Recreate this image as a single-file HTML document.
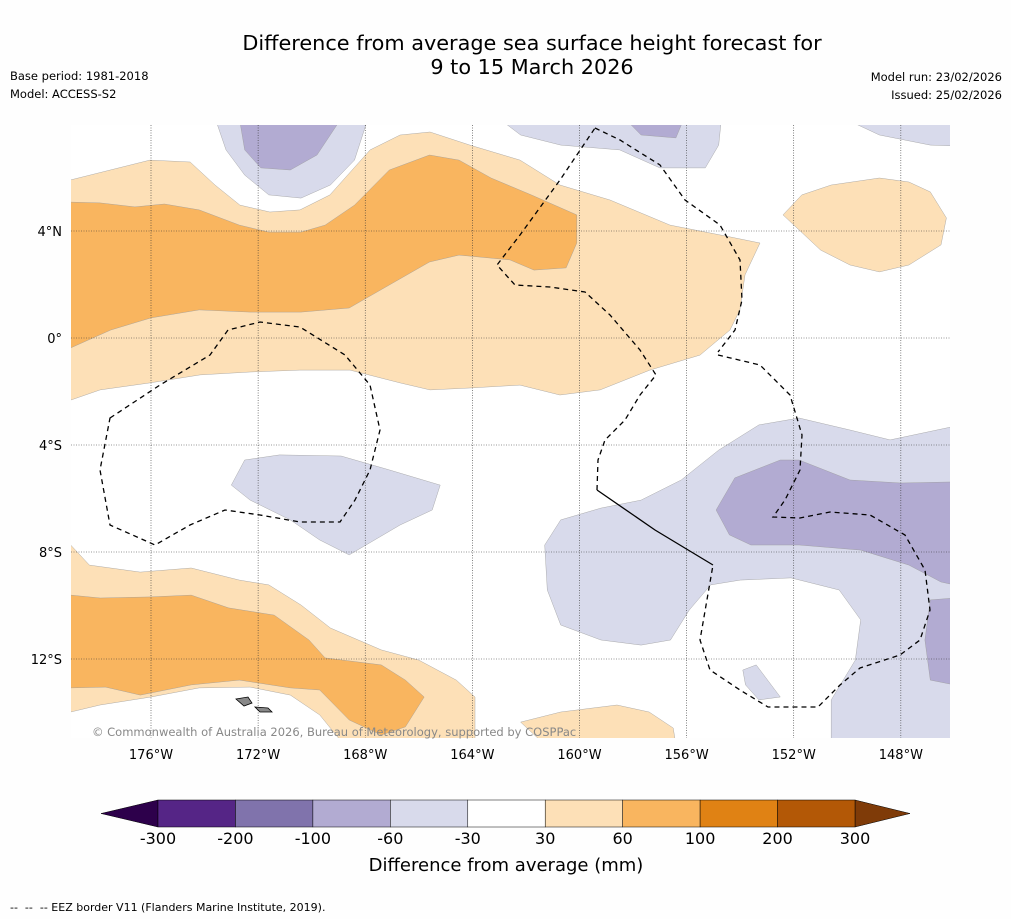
<!DOCTYPE html>
<html><head><meta charset="utf-8"><style>
body{margin:0;background:#fff;width:1011px;height:919px;overflow:hidden;font-family:"Liberation Sans","DejaVu Sans",sans-serif}
svg text{font-family:"DejaVu Sans","Liberation Sans",sans-serif}
</style></head><body>
<svg id="chart" width="1011" height="919" viewBox="0 0 1011 919" xmlns="http://www.w3.org/2000/svg">
<rect width="1011" height="919" fill="#fefefe"/>
<text x="532" y="50" font-size="20.8" text-anchor="middle" fill="#000">Difference from average sea surface height forecast for</text>
<text x="532" y="74" font-size="20.8" text-anchor="middle" fill="#000">9 to 15 March 2026</text>
<text x="10" y="80" font-size="11.5">Base period: 1981-2018</text>
<text x="10" y="98" font-size="11.5">Model: ACCESS-S2</text>
<text x="1002" y="81" font-size="11.5" text-anchor="end">Model run: 23/02/2026</text>
<text x="1002" y="99" font-size="11.5" text-anchor="end">Issued: 25/02/2026</text>
<defs><clipPath id="mapclip"><rect x="71" y="125" width="879" height="613"/></clipPath></defs>
<g id="map" clip-path="url(#mapclip)"><rect x="71" y="125" width="879" height="613" fill="#fff"/></g>
<g id="grid"></g>
<g id="eez" fill="none" stroke="#000" stroke-width="1.3" clip-path="url(#mapclip)">
<path stroke-dasharray="5,4" d="M595,128 L620,140 L660,165 L685,200 L720,225 L740,260 L742,300 L735,330 L718,352"/>
<path stroke-dasharray="5,4" d="M597,490 L598,460 L605,440 L625,420 L640,395 L656,375 L640,350 L610,315 L585,292 L550,287 L515,285 L497,265 L520,235 L560,180 L595,128"/>
<path stroke-dasharray="5,4" d="M718,355 L760,365 L790,395 L802,435 L800,470 L785,500 L773,517 L800,518 L830,512 L870,515 L905,535 L925,570 L930,610 L920,640 L900,655 L860,668 L840,685 L818,707 L768,707 L740,690 L710,670 L700,640 L713,565"/>
<path d="M597,490 L655,530 L713,565"/>
<path stroke-dasharray="5,4" d="M110,418 L160,385 L210,355 L228,330 L260,322 L300,327 L345,355 L370,385 L380,430 L370,470 L355,500 L340,522 L300,522 L260,515 L225,510 L190,525 L155,545 L110,525 L100,470 Z"/>
<path d="M236,699 L248,697 L252,703 L244,706 Z" fill="#888" stroke-width="0.8"/>
<path d="M255,707 L268,708 L272,712 L260,712 Z" fill="#888" stroke-width="0.8"/>
</g>
<text x="92" y="736" font-size="11.5" fill="#888">© Commonwealth of Australia 2026, Bureau of Meteorology, supported by COSPPac</text>
<g id="axes"></g>
<g id="cbar"></g>
<text x="506" y="871" font-size="18" text-anchor="middle">Difference from average (mm)</text>
<text x="10" y="911" font-size="11" xml:space="preserve">--  --  -- EEZ border V11 (Flanders Marine Institute, 2019).</text>
</svg>
<script>
const lonTicks=[-176,-172,-168,-164,-160,-156,-152,-148];
const latTicks=[4,0,-4,-8,-12];
const levels=[-300,-200,-100,-60,-30,30,60,100,200,300];
const levelColors=["#552586","#8073ac","#b2abd2","#d8daeb","#ffffff","#fde0b7","#f9b55f","#e08214","#b35806"];
const fillOrangeLightN=[[-179,5.91],[-176.04,6.65],[-174.54,6.58],[-173.61,5.72],[-172.68,4.97],[-171.56,4.71],[-170.44,4.79],[-169.32,5.35],[-167.82,7.03],[-166.7,7.59],[-165.58,7.7],[-164.09,7.21],[-162.22,6.65],[-160.73,5.72],[-158.86,5.16],[-156.62,4.22],[-154.38,3.78],[-153.26,3.55],[-153.82,2.36],[-154.01,1.05],[-154.38,0.3],[-155.5,-0.64],[-157.37,-1.2],[-159.23,-1.94],[-160.73,-2.13],[-162.22,-1.76],[-164.09,-1.87],[-165.58,-1.94],[-166.7,-1.68],[-168.57,-1.2],[-170.44,-1.2],[-172.3,-1.27],[-174.17,-1.38],[-176.04,-1.68],[-177.9,-1.94],[-179,-2.32]];
const fillOrangeDarkN=[[-179,5.08],[-177.9,5.05],[-176.6,4.9],[-175.5,5.01],[-174.2,4.79],[-172.7,4.22],[-171.6,3.96],[-170.4,3.96],[-169.5,4.22],[-168.4,4.97],[-167.1,6.28],[-165.6,6.84],[-164.5,6.65],[-163.3,5.98],[-161.8,5.35],[-160.1,4.6],[-160.1,3.55],[-160.5,2.62],[-161.7,2.54],[-162.6,2.92],[-164.5,3.1],[-165.6,2.84],[-167.1,1.98],[-168.6,1.12],[-170.4,0.97],[-172.3,0.97],[-174.2,1.05],[-176,0.75],[-177.5,0.3],[-179,-0.37]];
const fillPurpleLightTop=[[-173.6,8.2],[-173.2,7.03],[-172.5,6.09],[-171.6,5.35],[-170.4,5.23],[-169.3,5.72],[-168.4,6.65],[-167.9,8.2]];
const fillPurpleMedTop=[[-172.7,8.2],[-172.5,7.03],[-171.9,6.36],[-170.8,6.28],[-169.8,6.84],[-168.9,8.2]];
const fillPurpleLightTopR=[[-163,8.2],[-162.2,7.59],[-160.7,7.21],[-158.5,7.03],[-157,6.36],[-155.3,6.36],[-154.8,7.21],[-154.7,8.2]];
const fillPurpleMedTopR=[[-158.3,8.2],[-157.7,7.59],[-156.4,7.48],[-156.1,8.2]];
const fillPurpleLightFarR=[[-150.1,8.2],[-148.8,7.59],[-146.9,7.21],[-146,7.18],[-146,8.2]];
const fillOrangeRight=[[-152.4,4.6],[-151.7,5.35],[-150.6,5.72],[-148.8,5.98],[-147.7,5.83],[-146.9,5.46],[-146.3,4.49],[-146.5,3.48],[-147.7,2.73],[-148.8,2.47],[-149.9,2.73],[-151,3.29]];
const fillPurpleMid=[[-173,-5.5],[-172.5,-4.56],[-171.2,-4.37],[-168.9,-4.41],[-167.1,-4.93],[-165.2,-5.5],[-165.5,-6.43],[-166.7,-6.99],[-168.6,-8.11],[-169.7,-7.55],[-170.8,-6.8],[-172.3,-6.06]];
const fillPurpleLightSE=[[-161.3,-7.74],[-160.7,-6.8],[-159.2,-6.36],[-157.7,-6.06],[-156.2,-5.31],[-154.8,-4.19],[-153.3,-3.25],[-151.8,-2.99],[-149.9,-3.44],[-148.4,-3.81],[-146,-3.3],[-146,-15.2],[-150.6,-15.2],[-150.6,-13.53],[-149.7,-12.04],[-149.5,-10.54],[-150.3,-9.42],[-152.1,-8.97],[-154,-9.05],[-155.1,-9.23],[-155.9,-10.17],[-156.6,-11.29],[-157.7,-11.48],[-159.2,-11.29],[-160.7,-10.73],[-161.2,-9.42]];
const fillPurpleMedSE=[[-154.9,-6.43],[-154.2,-5.23],[-152.5,-4.56],[-151.8,-4.56],[-149.9,-5.31],[-148,-5.42],[-146,-5.38],[-146,-9.23],[-146.5,-9.12],[-147.7,-8.49],[-149.5,-7.93],[-151.8,-7.74],[-153.6,-7.74],[-154.4,-7.36]];
const fillPurpleMedEdge=[[-146,-9.72],[-146.9,-9.79],[-147.1,-11.29],[-146.9,-12.79],[-146,-12.97]];
const fillPurpleSmall=[[-153.9,-12.41],[-153.4,-12.22],[-152.5,-13.42],[-153.3,-13.53],[-153.8,-12.97]];
const fillOrangeLightSW=[[-179,-7.74],[-178.3,-8.49],[-176.4,-8.75],[-174.5,-8.6],[-172.7,-9.05],[-171.6,-9.23],[-170.4,-9.98],[-169.3,-10.84],[-167.4,-11.66],[-166,-12.04],[-164.6,-12.79],[-163.9,-13.42],[-163.9,-15.2],[-168.8,-15.2],[-169.7,-14.09],[-170.8,-13.35],[-172.3,-13.05],[-174.2,-13.08],[-176,-13.42],[-177.9,-13.72],[-179,-13.98]];
const fillOrangeDarkSW=[[-179,-9.61],[-177.9,-9.72],[-176,-9.68],[-174.5,-9.61],[-173.1,-10.09],[-171.4,-10.36],[-170.1,-11.29],[-169.5,-11.96],[-167.4,-12.22],[-166.5,-12.79],[-165.8,-13.42],[-166.5,-14.54],[-167.4,-14.84],[-168.6,-14.28],[-169.7,-13.16],[-170.8,-13.08],[-172.7,-12.79],[-174.5,-12.97],[-176.4,-13.35],[-177.7,-13.05],[-179,-13.08]];
const fillOrangeBottom=[[-162.2,-14.36],[-160.7,-13.98],[-158.6,-13.72],[-157.4,-13.98],[-156.5,-14.58],[-156.4,-15.2],[-161.3,-15.2]];

const NS="http://www.w3.org/2000/svg";
const X=lon=>151+(lon+176)*26.78;
const Y=lat=>338-lat*26.75;
const map=document.getElementById('map');
function poly(pts,color,name){
  const p=document.createElementNS(NS,'polygon');
  p.setAttribute('points',pts.map(d=>X(d[0]).toFixed(1)+','+Y(d[1]).toFixed(1)).join(' '));
  p.setAttribute('fill',color);p.setAttribute('stroke','#999');p.setAttribute('stroke-width','0.4');
  
  
  map.appendChild(p);
}
const LO=levelColors[5],DO=levelColors[6],LP=levelColors[3],MP=levelColors[2];
poly(fillOrangeLightN,LO,'contour-30-60-north');
poly(fillOrangeDarkN,DO,'contour-60-100-north');
poly(fillPurpleLightTop,LP,'contour-neg30-60-top');
poly(fillPurpleMedTop,MP,'contour-neg60-100-top');
poly(fillPurpleLightTopR,LP,'contour-neg30-60-top-right');
poly(fillPurpleMedTopR,MP,'contour-neg60-100-top-right');
poly(fillPurpleLightFarR,LP,'contour-neg30-60-far-right');
poly(fillOrangeRight,LO,'contour-30-60-east');
poly(fillPurpleMid,LP,'contour-neg30-60-central');
poly(fillPurpleLightSE,LP,'contour-neg30-60-southeast');
poly(fillPurpleMedSE,MP,'contour-neg60-100-southeast');
poly(fillPurpleMedEdge,MP,'contour-neg60-100-edge');
poly(fillPurpleSmall,LP,'contour-neg30-60-small');
poly(fillOrangeLightSW,LO,'contour-30-60-southwest');
poly(fillOrangeDarkSW,DO,'contour-60-100-southwest');
poly(fillOrangeBottom,LO,'contour-30-60-south');

const grid=document.getElementById('grid'),axes=document.getElementById('axes');
function line(x1,y1,x2,y2,name){
  const l=document.createElementNS(NS,'line');
  l.setAttribute('x1',x1);l.setAttribute('y1',y1);l.setAttribute('x2',x2);l.setAttribute('y2',y2);
  l.setAttribute('stroke','#333');l.setAttribute('stroke-width','0.6');l.setAttribute('stroke-dasharray','1,1.5');
  
  
  grid.appendChild(l);
}
function txt(x,y,s,anchor,size,parent,name){
  const t=document.createElementNS(NS,'text');
  t.setAttribute('x',x);t.setAttribute('y',y);t.setAttribute('text-anchor',anchor);t.setAttribute('font-size',size);
  t.textContent=s;
  
  
  parent.appendChild(t);
}
lonTicks.forEach(l=>{line(X(l),125,X(l),738,'lon-gridline');txt(X(l),759,Math.abs(l)+'°W','middle',13,axes,'x-tick-label');});
latTicks.forEach(l=>{line(71,Y(l),950,Y(l),'lat-gridline');txt(62,Y(l)+5,l===0?'0°':Math.abs(l)+'°'+(l>0?'N':'S'),'end',13,axes,'y-tick-label');});

const cb=document.getElementById('cbar');
const cx0=158,cx1=855,cy=800,ch=27,sw=(cx1-cx0)/levelColors.length;
const lt=document.createElementNS(NS,'polygon');
lt.setAttribute('points',`${cx0},${cy} ${cx0},${cy+ch} 101,${cy+ch/2}`);lt.setAttribute('fill','#2d004b');lt.setAttribute('stroke','#000');lt.setAttribute('stroke-width','0.5');


cb.appendChild(lt);
const rt=document.createElementNS(NS,'polygon');
rt.setAttribute('points',`${cx1},${cy} ${cx1},${cy+ch} 910,${cy+ch/2}`);rt.setAttribute('fill','#7f3b08');rt.setAttribute('stroke','#000');rt.setAttribute('stroke-width','0.5');


cb.appendChild(rt);
levelColors.forEach((c,i)=>{
  const r=document.createElementNS(NS,'rect');
  r.setAttribute('x',cx0+i*sw);r.setAttribute('y',cy);r.setAttribute('width',sw);r.setAttribute('height',ch);
  r.setAttribute('fill',c);r.setAttribute('stroke','#000');r.setAttribute('stroke-width','0.5');
  
  
  cb.appendChild(r);
});
levels.forEach((v,i)=>txt(cx0+i*sw,844,String(v),'middle',16,cb,'colorbar-tick-label'));
</script>
</body></html>
